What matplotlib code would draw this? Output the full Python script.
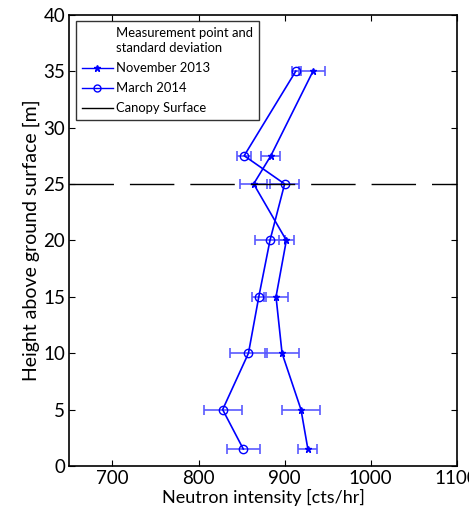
import numpy as np
import matplotlib.pyplot as plt
from matplotlib.lines import Line2D

plt.rcParams['font.family'] = ['Lato', 'DejaVu Sans']

# Heights of the measurement points [m]
height_nov = [1.5, 5, 10, 15, 20, 25, 27.5, 35]
height_mar = [1.5, 5, 10, 15, 20, 25, 27.5, 35]

# Neutron intensity [cts/hr] and standard deviation
nov_2013 = [927, 919, 897, 890, 902, 864, 884, 933]
nov_err = [11, 22, 20, 14, 9, 16, 11, 14]
mar_2014 = [852, 828, 858, 870, 883, 900, 853, 913]
mar_err = [19, 22, 21, 8, 18, 17, 8, 4]

canopy_height = 25

fig = plt.figure(figsize=(4.69, 5.14), dpi=100)
ax = fig.add_axes([0.148, 0.0934, 0.826, 0.878])

blue = '#0000ff'
ax.errorbar(nov_2013, height_nov, xerr=nov_err, fmt='none', ecolor='#5a5aff',
            elinewidth=1.2, capsize=3.5, capthick=1.2)
ax.errorbar(mar_2014, height_mar, xerr=mar_err, fmt='none', ecolor='#5a5aff',
            elinewidth=1.2, capsize=3.5, capthick=1.2)
ax.plot(nov_2013, height_nov, color=blue, lw=1.2, marker='*', ms=5)
ax.plot(mar_2014, height_mar, color=blue, lw=1.2, marker='o', ms=6,
        mfc='none', mew=1)
ax.axhline(canopy_height, color='black', lw=1, dashes=(32, 11.5))

ax.set_xlim(650, 1100)
ax.set_ylim(0, 40)
ax.set_xticks([700, 800, 900, 1000, 1100])
ax.set_yticks(np.arange(0, 41, 5))
ax.tick_params(direction='in', labelsize=13.5, length=4, top=True, right=True,
               labeltop=False, labelright=False, pad=3)
for s in ax.spines.values():
    s.set_linewidth(1.2)
ax.set_xlabel('Neutron intensity [cts/hr]', fontsize=13, labelpad=1)
ax.set_ylabel('Height above ground surface [m]', fontsize=14, labelpad=2)

handles = [
    Line2D([], [], color='none'),
    Line2D([], [], color=blue, lw=1, marker='*', ms=5),
    Line2D([], [], color=blue, lw=1, marker='o', ms=5, mfc='none'),
    Line2D([], [], color='black', lw=1),
]
labels = ['Measurement point and\nstandard deviation', 'November 2013',
          'March 2014', 'Canopy Surface']
leg = ax.legend(handles, labels, loc='upper left', fontsize=9.4, frameon=True,
                fancybox=False, edgecolor='black', handlelength=2.4,
                handletextpad=0.25, borderaxespad=0.5, labelspacing=0.62,
                borderpad=0.45)
for t in leg.get_texts():
    t.set_linespacing(1.3)
leg.get_frame().set_linewidth(1)

fig.savefig('out.png', dpi=100)
